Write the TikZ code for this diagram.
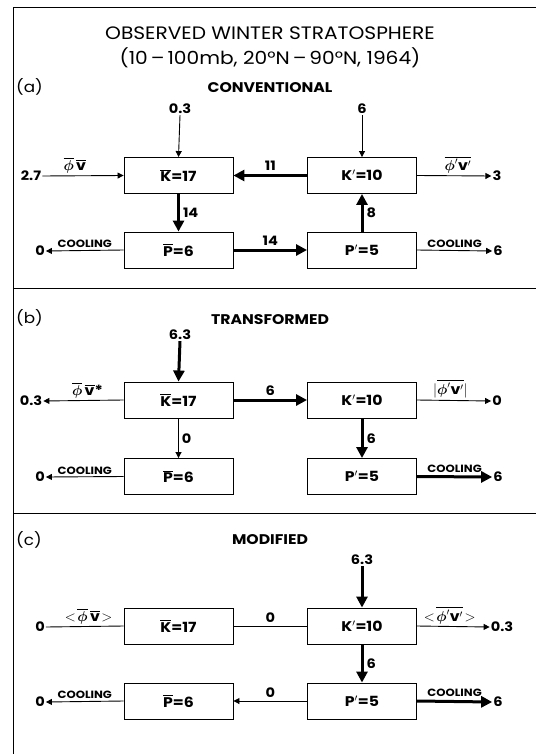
\documentclass[tikz,border=0pt]{standalone}
\usepackage{amsmath}
\usepackage{fontspec}
\setmainfont{Poppins}[FakeStretch=1.12]
\usetikzlibrary{arrows.meta}
\newcommand{\ovl}[1]{\overline{\mbox{#1}}}
\newcommand{\bphi}{\boldsymbol{\phi}}
\begin{document}
\begin{tikzpicture}[x=1pt,y=-1pt,
 box/.style={draw,line width=0.9pt,minimum width=109pt,minimum height=36pt,inner sep=0pt,font=\bfseries\fontsize{14}{14}\selectfont},
 num/.style={font=\bfseries\fontsize{13}{13}\selectfont,inner sep=1pt},
 lab/.style={font=\bfseries\fontsize{14}{14}\selectfont,inner sep=1pt},
 cool/.style={font=\bfseries\fontsize{10.5}{11}\selectfont,inner sep=1pt},
 head/.style={font=\bfseries\fontsize{14}{14}\selectfont},
 panel/.style={font=\fontsize{15}{15}\selectfont,anchor=west,inner sep=0pt},
 thin/.style={line width=0.9pt,-{Triangle[length=6pt,width=6pt]}},
 thk/.style={line width=3pt,-{Triangle[length=11pt,width=11pt]}},
 plain/.style={line width=0.9pt},
 frame/.style={line width=1pt}
]
\useasboundingbox (0,0) rectangle (536,754);
% frame
\draw[frame] (13,754) -- (13,8) -- (536,8);
\draw[frame] (13,288) -- (536,288);
\draw[frame] (13,513) -- (536,513);
% title
\node[font=\fontsize{18}{18}\selectfont] (t1) at (270,33) {OBSERVED WINTER STRATOSPHERE};
\node[font=\fontsize{18}{18}\selectfont] (t2) at (270,58) {(10\,–\,100mb, 20°N\,–\,90°N, 1964)};

% ---------- panel (a)
\node[panel] (pa) at (16,87) {(a)};
\node[head] (ha) at (270,88) {CONVENTIONAL};
\node[box] (Ka) at (178.5,175.5) {$\ovl{K}$=17};
\node[box] (Qa) at (362,175.5) {K$'$=10};
\node[box] (Pa) at (178.5,250) {$\ovl{P}$=6};
\node[box] (Ra) at (362,250) {P$'$=5};
\node[num] (a1) at (180,109) {0.3};
\node[num] (a2) at (362,109) {6};
\node[num] (a3) at (31,176) {2.7};
\node[num] (a4) at (497,176) {3};
\node[num] (a5) at (40,251) {0};
\node[num] (a6) at (498,251) {6};
\draw[thin] (a1.south) -- (Ka.north);
\draw[thin] (a2.south) -- (Qa.north);
\draw[thin] (a3.east) -- node[lab,above=1pt,pos=0.4] {$\overline{\bphi}\,\ovl{v}$} (Ka.west);
\draw[thin] (Qa.east) -- node[lab,above=1pt,pos=0.55] {$\overline{\bphi'\mbox{v}'}$} (a4.west);
\draw[thk] (Qa.west) -- node[num,above=2pt] {11} (Ka.east);
\draw[thk] (Ka.south) -- node[num,right=2pt] {14} (Pa.north);
\draw[thk] (Pa.east) -- node[num,above=2pt] {14} (Ra.west);
\draw[thk] (Ra.north) -- node[num,right=2pt] {8} (Qa.south);
\draw[thin] (Pa.west) -- node[cool,above=1pt] {COOLING} (a5.east);
\draw[thin] (Ra.east) -- node[cool,above=1pt] {COOLING} (a6.west);

% ---------- panel (b)
\node[panel] (pb) at (16,318) {(b)};
\node[head] (hb) at (270,320) {TRANSFORMED};
\node[box] (Kb) at (178.5,400) {$\ovl{K}$=17};
\node[box] (Qb) at (362,400) {K$'$=10};
\node[box] (Pb) at (178.5,476.5) {$\ovl{P}$=6};
\node[box] (Rb) at (362,476.5) {P$'$=5};
\node[num] (b1) at (180,335) {6.3};
\node[num] (b2) at (31,401) {0.3};
\node[num] (b3) at (497,401) {0};
\node[num] (b4) at (40,477) {0};
\node[num] (b5) at (498,477) {6};
\draw[thk] (b1.south) -- (Kb.north);
\draw[thin] (Kb.west) -- node[lab,above=1pt,pos=0.45] {$\overline{\bphi}\,\ovl{v}$*} (b2.east);
\draw[thin] (Qb.east) -- node[lab,above=1pt,pos=0.45] {$|\overline{\bphi'\mbox{v}'}|$} (b3.west);
\draw[thk] (Kb.east) -- node[num,above=2pt] {6} (Qb.west);
\draw[thin] (Kb.south) -- node[num,right=2pt] {0} (Pb.north);
\draw[thk] (Qb.south) -- node[num,right=2pt] {6} (Rb.north);
\draw[thin] (Pb.west) -- node[cool,above=1pt] {COOLING} (b4.east);
\draw[thk] (Rb.east) -- node[cool,above=2pt] {COOLING} (b5.west);

% ---------- panel (c)
\node[panel] (pc) at (16,540) {(c)};
\node[head] (hc) at (270,540) {MODIFIED};
\node[box] (Kc) at (178.5,626) {$\ovl{K}$=17};
\node[box] (Qc) at (362,626) {K$'$=10};
\node[box] (Pc) at (178.5,701) {$\ovl{P}$=6};
\node[box] (Rc) at (362,701) {P$'$=5};
\node[num] (c1) at (362,560) {6.3};
\node[num] (c2) at (40,627) {0};
\node[num] (c3) at (502,627) {0.3};
\node[num] (c4) at (40,702) {0};
\node[num] (c5) at (498,702) {6};
\draw[thk] (c1.south) -- (Qc.north);
\draw[plain] (Kc.west) -- node[lab,above=1pt,pos=0.45] {$<\!\overline{\bphi}\,\ovl{v}\!>$} (c2.east);
\draw[plain] (Kc.east) -- node[num,above=2pt] {0} (Qc.west);
\draw[thin] (Qc.east) -- node[lab,above=1pt,pos=0.45] {$<\!\overline{\bphi'\mbox{v}'}\!>$} (c3.west);
\draw[thk] (Qc.south) -- node[num,right=2pt] {6} (Rc.north);
\draw[thin] (Rc.west) -- node[num,above=2pt] {0} (Pc.east);
\draw[thin] (Pc.west) -- node[cool,above=1pt] {COOLING} (c4.east);
\draw[thk] (Rc.east) -- node[cool,above=2pt] {COOLING} (c5.west);
\end{tikzpicture}
\end{document}
